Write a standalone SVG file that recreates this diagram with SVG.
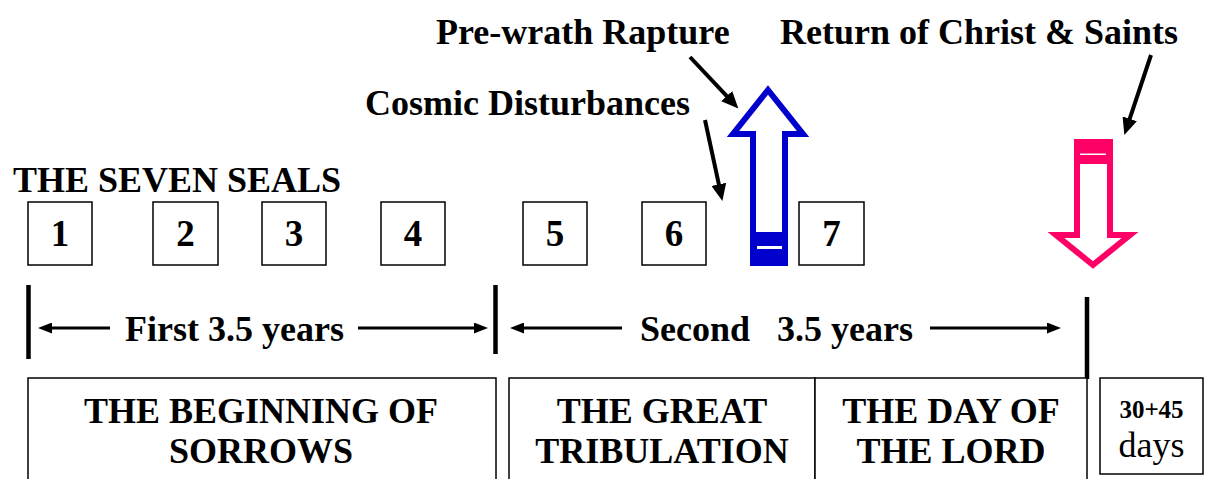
<svg xmlns="http://www.w3.org/2000/svg" width="1208" height="479" viewBox="0 0 1208 479">
<style>
text{font-family:"Liberation Serif","Times New Roman",serif;fill:#000}
.t{font-size:36px;font-weight:bold}
.n{font-size:37px;font-weight:bold;text-anchor:middle}
.c{text-anchor:middle}
.box{fill:#fff;stroke:#000;stroke-width:1.5}
.bar{stroke:#000;stroke-width:4.5}
.ptr{stroke:#000;stroke-width:4;fill:none}
.tl{stroke:#000;stroke-width:3;fill:none}
</style>
<defs>
<marker id="hp" markerUnits="userSpaceOnUse" markerWidth="17" markerHeight="15" refX="7" refY="7.5" orient="auto"><path d="M0,0 L17,7.5 L0,15 z" fill="#000"/></marker>
<marker id="ht" markerUnits="userSpaceOnUse" markerWidth="14" markerHeight="11" refX="6" refY="5.5" orient="auto"><path d="M0,0 L14,5.5 L0,11 z" fill="#000"/></marker>
</defs>
<rect width="1208" height="479" fill="#fff"/>

<g id="labels">
<text class="t" x="436" y="44">Pre-wrath Rapture</text>
<text class="t" x="780" y="44">Return of Christ &amp; Saints</text>
<text class="t" x="365" y="115">Cosmic Disturbances</text>
<text class="t" x="13" y="192">THE SEVEN SEALS</text>
</g>

<g id="seal1"><rect class="box" x="28" y="202" width="64" height="63"/><text class="n" x="60" y="246">1</text></g>
<g id="seal2"><rect class="box" x="153" y="202" width="65" height="63"/><text class="n" x="185.5" y="246">2</text></g>
<g id="seal3"><rect class="box" x="262" y="202" width="64" height="63"/><text class="n" x="294" y="246">3</text></g>
<g id="seal4"><rect class="box" x="381" y="202" width="64" height="63"/><text class="n" x="413" y="246">4</text></g>
<g id="seal5"><rect class="box" x="523" y="202" width="64" height="63"/><text class="n" x="555" y="246">5</text></g>
<g id="seal6"><rect class="box" x="642" y="202" width="64" height="63"/><text class="n" x="674" y="246">6</text></g>
<g id="seal7"><rect class="box" x="799" y="202" width="65" height="63"/><text class="n" x="831.5" y="246">7</text></g>

<g id="rapture-arrow">
<polygon points="768,90 803,134 785,134 785,263 753,263 753,134 733,134" fill="#fff" stroke="#0000CC" stroke-width="6" stroke-linejoin="miter"/>
<rect x="750" y="232" width="38" height="34" fill="#0000CC"/>
<rect x="757" y="246" width="25" height="3" fill="#fff"/>
</g>

<g id="return-arrow">
<polygon points="1077,142 1110,142 1110,235 1130,235 1093,265 1056,235 1077,235" fill="#fff" stroke="#FF0066" stroke-width="6" stroke-linejoin="miter"/>
<rect x="1074" y="139" width="39" height="25" fill="#FF0066"/>
<rect x="1080" y="153.5" width="26" height="1.5" fill="#fff"/>
</g>

<g id="connectors">
<line class="ptr" x1="690" y1="57" x2="731.5" y2="101.2" marker-end="url(#hp)"/>
<line class="ptr" x1="705" y1="120" x2="720.3" y2="191.2" marker-end="url(#hp)"/>
<line class="ptr" x1="1151" y1="55" x2="1127.5" y2="125.4" marker-end="url(#hp)"/>
<line class="tl" x1="110" y1="328" x2="46" y2="328" marker-end="url(#ht)"/>
<line class="tl" x1="358" y1="328" x2="480" y2="328" marker-end="url(#ht)"/>
<line class="tl" x1="622" y1="328" x2="518" y2="328" marker-end="url(#ht)"/>
<line class="tl" x1="930" y1="328" x2="1053" y2="328" marker-end="url(#ht)"/>
</g>

<g id="timeline">
<line class="bar" x1="28.5" y1="285" x2="28.5" y2="359"/>
<line class="bar" x1="495.5" y1="285" x2="495.5" y2="354"/>
<line class="bar" x1="1087" y1="297" x2="1087" y2="379"/>
<text class="t" x="125" y="341">First 3.5 years</text>
<text class="t" x="640" y="341" style="white-space:pre" xml:space="preserve">Second   3.5 years</text>
</g>

<g id="beginning-of-sorrows">
<rect class="box" x="28" y="378" width="468" height="110"/>
<text class="t c" x="261" y="423">THE BEGINNING OF</text>
<text class="t c" x="261" y="463">SORROWS</text>
</g>
<g id="great-tribulation">
<rect class="box" x="509" y="378" width="306" height="110"/>
<text class="t c" x="662" y="423">THE GREAT</text>
<text class="t c" x="662" y="463">TRIBULATION</text>
</g>
<g id="day-of-the-lord">
<rect class="box" x="815" y="378" width="272" height="110"/>
<text class="t c" x="951" y="423">THE DAY OF</text>
<text class="t c" x="951" y="463">THE LORD</text>
</g>
<g id="days">
<rect class="box" x="1100" y="378" width="103" height="96"/>
<text class="c" x="1151.5" y="418" style="font-size:25px;font-weight:bold">30+45</text>
<text class="c" x="1151.5" y="457" style="font-size:36px">days</text>
</g>
</svg>
